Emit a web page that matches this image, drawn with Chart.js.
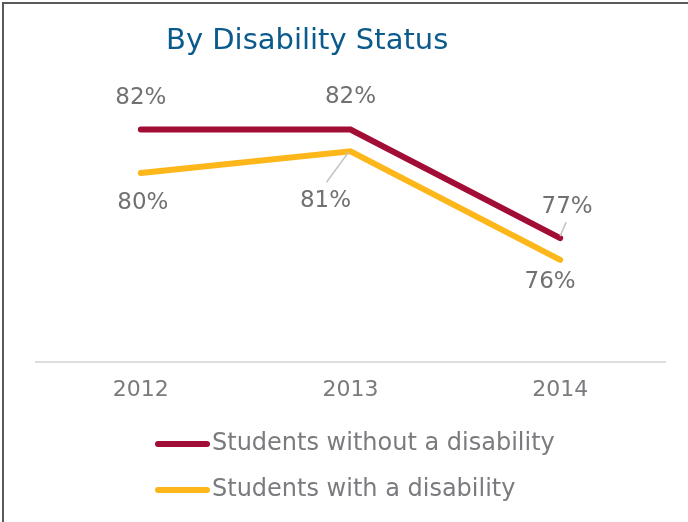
<!DOCTYPE html>
<html>
<head>
<meta charset="utf-8">
<script src="https://cdn.jsdelivr.net/npm/chart.js@4/dist/chart.umd.min.js"></script>
<style>
  html, body { margin: 0; padding: 0; background: #fff; }
  #wrap { position: relative; width: 688px; height: 522px; }
  #wrap::before {
    content: ""; position: absolute; left: 2px; top: 2px; right: 0; bottom: 0;
    border-left: 2px solid #5a5a5a; border-top: 2px solid #5a5a5a; pointer-events: none;
  }
  canvas { display: block; }
</style>
</head>
<body>
<div id="wrap"><canvas id="c" width="688" height="522"></canvas></div>
<script>
// Graduation rate by disability status, percent
const years = ['2012', '2013', '2014'];
const withoutDisability = [82, 82, 77];
const withDisability = [80, 81, 76];
const seriesNames = ['Students without a disability', 'Students with a disability'];
const chartTitle = 'By Disability Status';

const MAROON = '#a10d35';
const GOLD = '#fdb71a';
const GREY_TEXT = '#707173';
const FONT = '"DejaVu Sans", sans-serif';

// where each value label sits relative to its point (dx, dy), plus optional leader line
const labelPlacement = [
  [ { dx: 0, dy: -31 }, { dx: 0, dy: -32 }, { dx: 7, dy: -31, leader: [0, -2, 6, -16] } ],
  [ { dx: 2, dy: 30 }, { dx: -25, dy: 50, leader: [-2, 1, -24, 31] }, { dx: -10, dy: 22 } ]
];

const valueLabels = {
  id: 'valueLabels',
  afterDatasetsDraw(chart) {
    const ctx = chart.ctx;
    ctx.save();
    ctx.font = '400 23px ' + FONT;
    ctx.textAlign = 'center';
    ctx.textBaseline = 'middle';
    chart.data.datasets.forEach((ds, i) => {
      chart.getDatasetMeta(i).data.forEach((pt, j) => {
        const o = labelPlacement[i][j];
        if (o.leader) {
          ctx.strokeStyle = '#c4c4c4';
          ctx.lineWidth = 1.5;
          ctx.beginPath();
          ctx.moveTo(pt.x + o.leader[0], pt.y + o.leader[1]);
          ctx.lineTo(pt.x + o.leader[2], pt.y + o.leader[3]);
          ctx.stroke();
        }
        ctx.fillStyle = GREY_TEXT;
        ctx.fillText(ds.data[j] + '%', pt.x + o.dx, pt.y + o.dy);
      });
    });
    ctx.restore();
  }
};

// title and stacked legend drawn onto the canvas
const decorations = {
  id: 'decorations',
  afterDraw(chart) {
    const ctx = chart.ctx;
    ctx.save();
    ctx.font = '400 29px ' + FONT;
    ctx.fillStyle = '#0b5a8c';
    ctx.textAlign = 'left';
    ctx.textBaseline = 'alphabetic';
    ctx.fillText(chartTitle, 166, 49);

    chart.data.datasets.forEach((ds, i) => {
      const y = 444 + i * 46;
      ctx.strokeStyle = ds.borderColor;
      ctx.lineWidth = 6;
      ctx.lineCap = 'round';
      ctx.beginPath();
      ctx.moveTo(158, y);
      ctx.lineTo(207, y);
      ctx.stroke();
      ctx.font = '400 24px ' + FONT;
      ctx.fillStyle = '#7a7b7e';
      ctx.textBaseline = 'middle';
      ctx.fillText(ds.label, 212, y);
    });
    ctx.restore();
  }
};

new Chart(document.getElementById('c'), {
  type: 'line',
  data: {
    labels: years,
    datasets: [
      { label: seriesNames[0], data: withoutDisability, borderColor: MAROON, backgroundColor: MAROON },
      { label: seriesNames[1], data: withDisability, borderColor: GOLD, backgroundColor: GOLD }
    ]
  },
  options: {
    responsive: false,
    animation: false,
    layout: { padding: { left: 36, right: 23, top: 60, bottom: 100 } },
    elements: {
      line: { borderWidth: 6, borderCapStyle: 'round', borderJoinStyle: 'miter', tension: 0 },
      point: { radius: 0, hoverRadius: 0 }
    },
    plugins: {
      legend: { display: false },
      title: { display: false },
      tooltip: { enabled: false }
    },
    scales: {
      x: {
        offset: true,
        grid: { display: false, drawTicks: false },
        border: { display: true, color: '#dedede', width: 2 },
        ticks: { color: '#7a7b7e', padding: 15, font: { family: FONT, size: 22 } },
        afterFit(scale) { scale.height = 60; }
      },
      y: {
        display: false,
        min: 71.3,
        max: 85.2
      }
    }
  },
  plugins: [valueLabels, decorations]
});
</script>
</body>
</html>
